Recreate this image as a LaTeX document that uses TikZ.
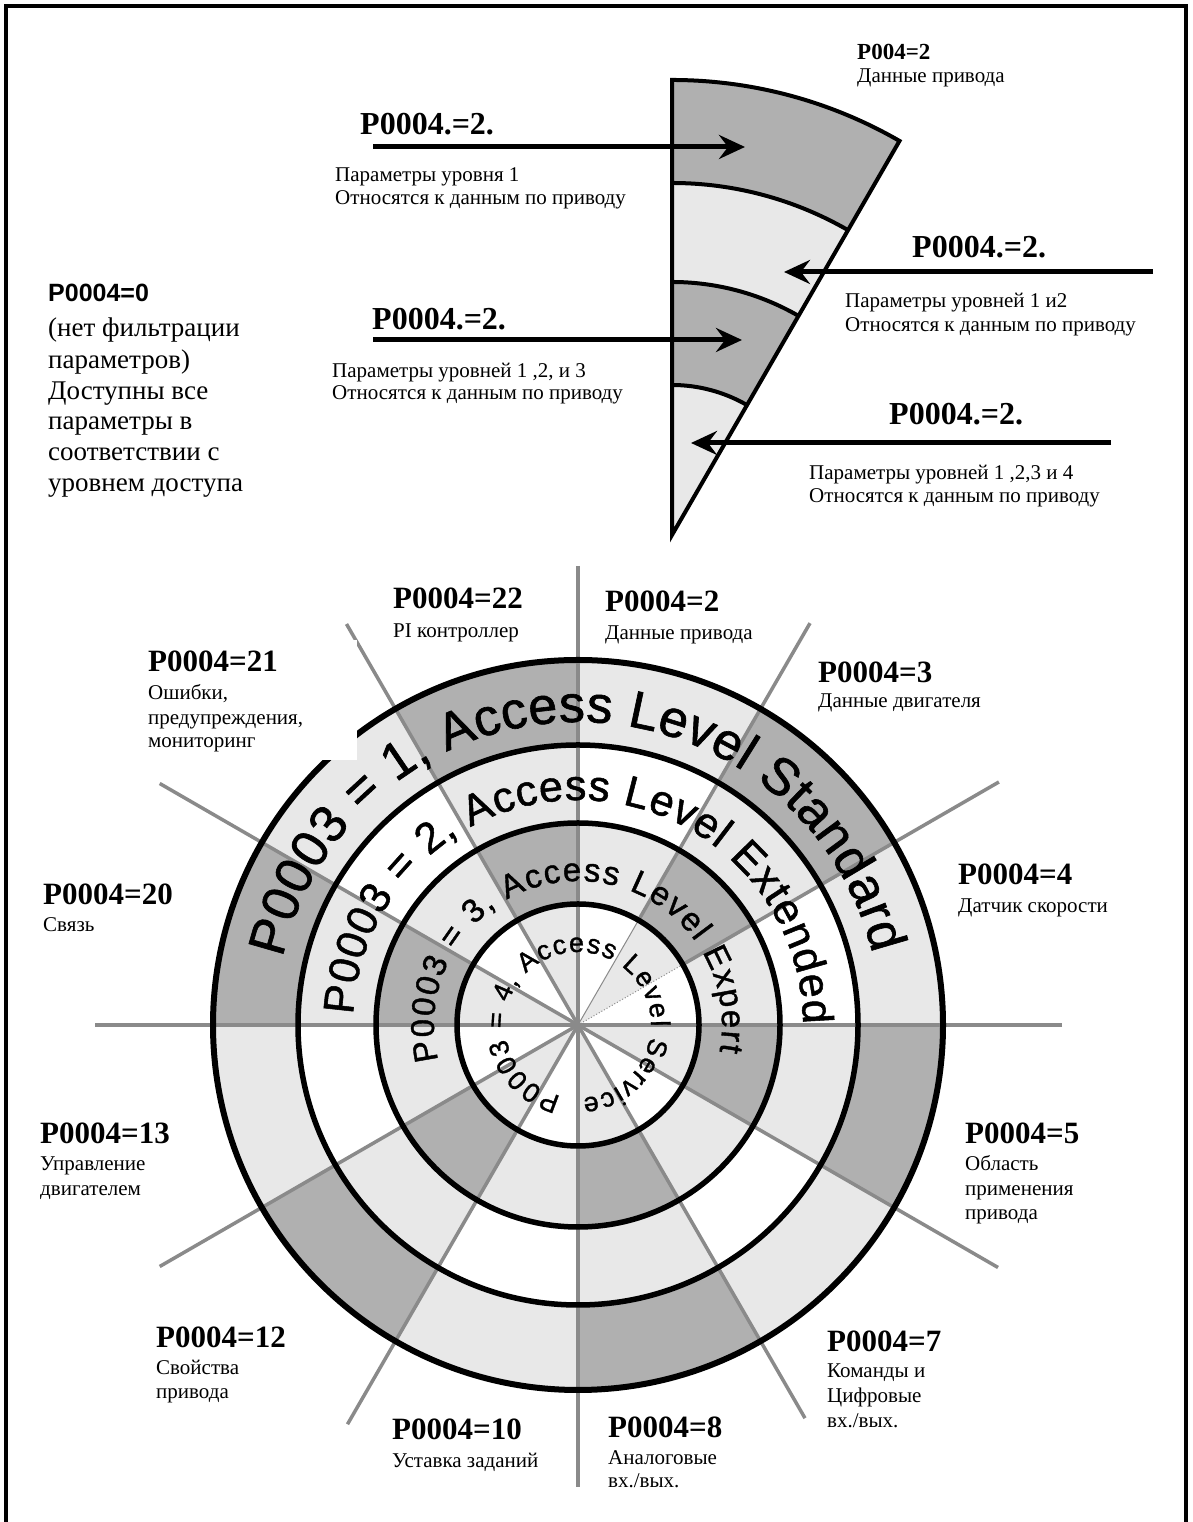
\documentclass[tikz,border=0pt]{standalone}
\usepackage{fontspec}
\setmainfont{Liberation Serif}
\newfontfamily\arialf{Liberation Sans}
\newfontfamily\ringf[FakeBold=1.2]{Liberation Sans}
\usetikzlibrary{arrows.meta,decorations.text}
\definecolor{dk}{RGB}{176,176,176}
\definecolor{lt}{RGB}{232,232,232}
\definecolor{spk}{RGB}{138,138,138}
\begin{document}
\begin{tikzpicture}[x=1pt,y=1pt,
  lab/.style={font=\bfseries\fontsize{31}{31}\selectfont, anchor=base west, inner sep=0pt},
  alab/.style={font=\bfseries\fontsize{32}{32}\selectfont, anchor=base west, inner sep=0pt},
  tlab/.style={font=\bfseries\fontsize{23}{23}\selectfont, anchor=base west, inner sep=0pt},
  dsc/.style={font=\fontsize{21}{21}\selectfont, anchor=base west, inner sep=0pt},
  bigtxt/.style={font=\fontsize{27}{27}\selectfont, anchor=base west, inner sep=0pt},
  biglab/.style={font=\arialf\bfseries\fontsize{25}{25}\selectfont, anchor=base west, inner sep=0pt},
  ringline/.style={line width=5.5pt},
  spoke/.style={draw=spk, line width=3.5pt},
  bigarrow/.style={line width=5pt, -{Stealth[length=26pt,width=24pt,inset=9pt]}},
  wline/.style={line width=4pt}
]
\useasboundingbox (0,0) rectangle (1192,1522);
\fill[white] (0,0) rectangle (1192,1522);
\begin{scope}[yshift=1522pt]
% border
\draw[line width=4pt] (5.5,-1530) -- (5.5,-6) -- (1185.5,-6) -- (1185.5,-1530);

% ---------- wedge ----------
\begin{scope}[shift={(672,-535)}]
\coordinate (apex) at (0,0);
\fill[dk] (90:455) arc[start angle=90,end angle=60,radius=455] -- (60:352) arc[start angle=60,end angle=90,radius=352] -- cycle;
\fill[lt] (90:352) arc[start angle=90,end angle=60,radius=352] -- (60:253) arc[start angle=60,end angle=90,radius=253] -- cycle;
\fill[dk] (90:253) arc[start angle=90,end angle=60,radius=253] -- (60:150) arc[start angle=60,end angle=90,radius=150] -- cycle;
\fill[lt] (0,0) -- (90:150) arc[start angle=90,end angle=60,radius=150] -- cycle;
\foreach \r in {352,253,150}{\draw[wline] (90:\r) arc[start angle=90,end angle=60,radius=\r];}
\draw[wline, line join=miter] (apex) -- (90:455) arc[start angle=90,end angle=60,radius=455] -- cycle;
\end{scope}

% arrows
\coordinate (a1s) at (373,-147); \coordinate (a1e) at (745,-147);
\coordinate (a2s) at (1153,-272); \coordinate (a2e) at (784,-272);
\coordinate (a3s) at (373,-340); \coordinate (a3e) at (742,-340);
\coordinate (a4s) at (1111,-443); \coordinate (a4e) at (691,-443);
\draw[bigarrow] (a1s) -- (a1e);
\draw[bigarrow] (a2s) -- (a2e);
\draw[bigarrow] (a3s) -- (a3e);
\draw[bigarrow] (a4s) -- (a4e);

\node[alab] (t1) at (360,-135) {P0004.=2.};
\node[dsc] (t1a) at (335,-182) {Параметры уровня 1};
\node[dsc] (t1b) at (335,-205) {Относятся к данным по приводу};
\node[alab] (t2) at (912,-258) {P0004.=2.};
\node[dsc] (t2a) at (845,-308) {Параметры уровней 1 и2};
\node[dsc] (t2b) at (845,-332) {Относятся к данным по приводу};
\node[alab] (t3) at (372,-330) {P0004.=2.};
\node[dsc] (t3a) at (332,-378) {Параметры уровней 1 ,2, и 3};
\node[dsc] (t3b) at (332,-400) {Относятся к данным по приводу};
\node[alab] (t4) at (889,-425) {P0004.=2.};
\node[dsc] (t4a) at (809,-480) {Параметры уровней 1 ,2,3 и 4};
\node[dsc] (t4b) at (809,-503) {Относятся к данным по приводу};
\node[tlab] (t0) at (857,-60) {P004=2};
\node[dsc] (t0a) at (857,-83) {Данные привода};

% left text
\node[biglab] (p0) at (48,-302) {P0004=0};
\node[bigtxt] (p0a) at (48,-337) {(нет фильтрации};
\node[bigtxt] (p0b) at (48,-369) {параметров)};
\node[bigtxt] (p0c) at (48,-400) {Доступны все};
\node[bigtxt] (p0d) at (48,-430) {параметры в};
\node[bigtxt] (p0e) at (48,-461) {соответствии с};
\node[bigtxt] (p0f) at (48,-492) {уровнем доступа};

% ---------- circle ----------
\begin{scope}[shift={(578,-1025)}]
\coordinate (ctr) at (0,0);
\foreach \k in {0,...,11}{
  \pgfmathsetmacro{\a}{30*\k}
  \pgfmathsetmacro{\b}{30*\k+30}
  \ifodd\k\relax \def\cA{dk}\def\cB{lt}\else \def\cA{lt}\def\cB{white}\fi
  \fill[\cA] (\a:365) arc[start angle=\a,end angle=\b,radius=365] -- (\b:280) arc[start angle=\b,end angle=\a,radius=280] -- cycle;
  \fill[\cB] (\a:280) arc[start angle=\a,end angle=\b,radius=280] -- (\b:202) arc[start angle=\b,end angle=\a,radius=202] -- cycle;
  \fill[\cA] (\a:202) arc[start angle=\a,end angle=\b,radius=202] -- (\b:121) arc[start angle=\b,end angle=\a,radius=121] -- cycle;
  \fill[\cB] (0,0) -- (\a:121) arc[start angle=\a,end angle=\b,radius=121] -- cycle;
}
% spokes
\draw[spoke] (0:484) -- (180:483);
\draw[spoke] (90:459) -- (270:462);
\draw[spoke] (120:463) -- (300:454);
\draw[spoke] (150:483) -- (330:485);
\draw[spoke] (30:486) -- (30:121);
\draw[spoke] (ctr) -- (210:483);
\draw[spoke] (60:464) -- (60:121);
\draw[spoke] (ctr) -- (240:461);
\draw[draw=spk, line width=1pt] (ctr) -- (60:121);
\draw[draw=spk, line width=1pt, dotted] (ctr) -- (30:121);
% rings
\draw[line width=6pt] (ctr) circle[radius=365];
\draw[ringline] (ctr) circle[radius=280];
\draw[ringline] (ctr) circle[radius=202];
\draw[ringline] (ctr) circle[radius=121];
% ring texts
\path[decorate, decoration={text along path, text align=fit to path,
  text={|\ringf\fontsize{52}{52}\selectfont|P0003 = 1, Access Level Standard}}]
  (167.2:303) arc[start angle=167.2, end angle=13.6, radius=303];
\path[decorate, decoration={text along path, text align=fit to path,
  text={|\ringf\fontsize{43}{43}\selectfont|P0003 = 2, Access Level Extended}}]
  (177.4:225) arc[start angle=177.4, end angle=0.2, radius=225];
\path[decorate, decoration={text along path, text align=fit to path,
  text={|\ringf\fontsize{33}{33}\selectfont|P0003 = 3, Access Level Expert}}]
  (194.2:144) arc[start angle=194.2, end angle=-10.7, radius=144];
\path[decorate, decoration={text along path, text align=fit to path,
  text={|\ringf\fontsize{27}{27}\selectfont|P0003 = 4, Access Level Service}}]
  (256.4:73) arc[start angle=256.4, end angle=-86.4, radius=73];
\end{scope}

% white patch behind label 21
\fill[white] (140,-640) rectangle (357,-760);

% ---------- circle labels ----------
\node[lab] (l22) at (393,-609) {P0004=22};
\node[dsc] (d22) at (393,-638) {PI контроллер};
\node[lab] (l2) at (605,-612) {P0004=2};
\node[dsc] (d2) at (605,-640) {Данные привода};
\node[lab] (l3) at (818,-683) {P0004=3};
\node[dsc] (d3) at (818,-708) {Данные двигателя};
\node[lab] (l21) at (148,-672) {P0004=21};
\node[dsc] (d21a) at (148,-700) {Ошибки,};
\node[dsc] (d21b) at (148,-725) {предупреждения,};
\node[dsc] (d21c) at (148,-748) {мониторинг};
\node[lab] (l20) at (43,-905) {P0004=20};
\node[dsc] (d20) at (43,-932) {Связь};
\node[lab] (l4) at (958,-885) {P0004=4};
\node[dsc] (d4) at (958,-913) {Датчик скорости};
\node[lab] (l13) at (40,-1144) {P0004=13};
\node[dsc] (d13a) at (40,-1171) {Управление};
\node[dsc] (d13b) at (40,-1196) {двигателем};
\node[lab] (l5) at (965,-1144) {P0004=5};
\node[dsc] (d5a) at (965,-1171) {Область};
\node[dsc] (d5b) at (965,-1196) {применения};
\node[dsc] (d5c) at (965,-1220) {привода};
\node[lab] (l12) at (156,-1348) {P0004=12};
\node[dsc] (d12a) at (156,-1375) {Свойства};
\node[dsc] (d12b) at (156,-1399) {привода};
\node[lab] (l7) at (827,-1352) {P0004=7};
\node[dsc] (d7a) at (827,-1378) {Команды и};
\node[dsc] (d7b) at (827,-1403) {Цифровые};
\node[dsc] (d7c) at (827,-1428) {вх./вых.};
\node[lab] (l10) at (392,-1440) {P0004=10};
\node[dsc] (d10) at (392,-1468) {Уставка заданий};
\node[lab] (l8) at (608,-1438) {P0004=8};
\node[dsc] (d8a) at (608,-1465) {Аналоговые};
\node[dsc] (d8b) at (608,-1488) {вх./вых.};
\end{scope}
\end{tikzpicture}
\end{document}
